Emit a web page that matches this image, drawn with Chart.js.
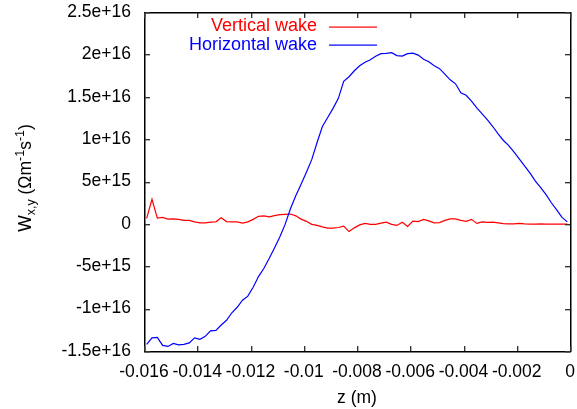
<!DOCTYPE html>
<html>
<head>
<meta charset="utf-8">
<script src="https://cdn.jsdelivr.net/npm/chart.js@4.4.0/dist/chart.umd.min.js"></script>
<style>
  html, body { margin: 0; padding: 0; background: #fff; }
</style>
</head>
<body>
<canvas id="wakeChart" width="577" height="409"></canvas>
<script>
// z positions (m)
const zValues = [
  -0.0159, -0.0157, -0.0155, -0.0153, -0.0151, -0.0149, -0.0147, -0.0145, -0.0143, -0.0141,
  -0.0139, -0.0137, -0.0135, -0.0133, -0.0131, -0.0129, -0.0127, -0.0125, -0.0123, -0.0121,
  -0.0119, -0.0117, -0.0115, -0.0113, -0.0111, -0.0109, -0.0107, -0.0105, -0.0103, -0.0101,
  -0.0099, -0.0097, -0.0095, -0.0093, -0.0091, -0.0089, -0.0087, -0.0085, -0.0083, -0.0081,
  -0.0079, -0.0077, -0.0075, -0.0073, -0.0071, -0.0069, -0.0067, -0.0065, -0.0063, -0.0061,
  -0.0059, -0.0057, -0.0055, -0.0053, -0.0051, -0.0049, -0.0047, -0.0045, -0.0043, -0.0041,
  -0.0039, -0.0037, -0.0035, -0.0033, -0.0031, -0.0029, -0.0027, -0.0025, -0.0023, -0.0021,
  -0.0019, -0.0017, -0.0015, -0.0013, -0.0011, -0.0009, -0.0007, -0.0005, -0.0003, -0.0001
];

// wake values, in units of 1e15
const verticalWake = [
  0.65, 2.90, 0.68, 0.77, 0.56, 0.59, 0.53, 0.41, 0.41, 0.24,
  0.12, 0.12, 0.20, 0.24, 0.71, 0.27, 0.24, 0.24, 0.09, 0.24,
  0.53, 0.89, 0.95, 0.83, 0.97, 1.09, 1.13, 1.16, 0.95, 0.56,
  0.30, -0.06, -0.18, -0.36, -0.51, -0.51, -0.43, -0.26, -0.91, -0.47,
  -0.12, 0.06, -0.06, -0.06, 0.09, 0.20, -0.06, -0.18, 0.20, -0.30,
  0.32, 0.26, 0.53, 0.36, 0.12, 0.15, 0.41, 0.59, 0.59, 0.41,
  0.30, 0.53, 0.06, 0.24, 0.17, 0.21, 0.12, 0.02, 0, 0,
  0.06, 0, -0.04, -0.02, 0, -0.02, -0.04, -0.04, -0.04, -0.04
];

const horizontalWake = [
  -14.22, -13.45, -13.39, -14.34, -14.46, -14.10, -14.28, -14.22, -14.04, -13.45,
  -13.63, -13.27, -12.62, -12.56, -11.93, -11.38, -10.49, -9.84, -9.01, -8.53,
  -7.47, -6.22, -5.27, -4.09, -2.84, -1.54, -0.06, 1.78, 3.32, 4.68,
  6.10, 7.58, 9.60, 11.49, 12.56, 13.63, 14.81, 16.83, 17.36, 18.07,
  18.66, 19.08, 19.37, 19.79, 20.09, 20.11, 20.20, 19.85, 19.79, 20.09,
  20.15, 19.91, 19.43, 19.14, 18.66, 18.31, 17.66, 17.00, 16.53, 15.46,
  15.17, 14.49, 13.69, 12.98, 12.26, 11.49, 10.61, 9.84, 9.24, 8.47,
  7.64, 6.81, 5.98, 5.04, 4.27, 3.44, 2.49, 1.66, 0.77, 0.24
];

const xTicks = [-0.016, -0.014, -0.012, -0.01, -0.008, -0.006, -0.004, -0.002, 0];
const yTicks = [-1.5e16, -1e16, -5e15, 0, 5e15, 1e16, 1.5e16, 2e16, 2.5e16];

const FONT = '"Liberation Sans", Arial, sans-serif';
const toPoints = (vals) => vals.map((v, i) => ({ x: zValues[i], y: v * 1e15 }));

function sciLabel(v) {
  if (Math.abs(v) < 1) return '0';
  const e = Math.floor(Math.log10(Math.abs(v)) + 1e-9);
  const m = Number((v / Math.pow(10, e)).toFixed(3));
  return m + 'e+' + e;
}

// box round the plot with inward ticks on all four sides
function drawFrame(chart) {
  const c = chart.ctx;
  const a = chart.chartArea;
  const xs = chart.scales.x, ys = chart.scales.y;
  const L = Math.round(a.left), R = Math.round(a.right);
  const T = Math.round(a.top), B = Math.round(a.bottom);
  c.save();
  c.fillStyle = '#000';
  c.fillRect(L, T, R - L + 1, 1.3);
  c.fillRect(L, B, R - L + 1, 1.3);
  c.fillRect(L, T, 1.3, B - T + 1);
  c.fillRect(R, T, 1.3, B - T + 1);
  const t = 5;
  c.fillStyle = '#333';
  xTicks.forEach((v) => {
    const px = Math.round(xs.getPixelForValue(v));
    c.fillRect(px, B - t, 1.2, t);
    c.fillRect(px, T + 1, 1.2, t);
  });
  yTicks.forEach((v) => {
    const py = Math.round(ys.getPixelForValue(v));
    c.fillRect(L + 1, py, t, 1.2);
    c.fillRect(R - t, py, t, 1.2);
  });
  c.restore();
}

const framePlugin = {
  id: 'frame',
  afterDatasetsDraw(chart) {
    drawFrame(chart);
  },
  afterDraw(chart) {
    const c = chart.ctx;
    const a = chart.chartArea;
    drawFrame(chart);
    c.save();

    // legend
    c.font = '18px ' + FONT;
    c.textAlign = 'right';
    c.textBaseline = 'middle';
    chart.data.datasets.forEach((ds, i) => {
      const ly = 26.5 + i * 18.5;
      c.fillStyle = ds.borderColor;
      c.fillText(ds.label, 317, ly);
      c.fillRect(329, Math.round(ly) - 0.5, 48, 1.2);
    });

    // x title
    c.fillStyle = '#000';
    c.textAlign = 'center';
    c.font = '17.5px ' + FONT;
    c.fillText('z (m)', (a.left + a.right) / 2, 398);

    // y title with sub/superscripts
    const parts = [
      { t: 'W', s: 17.5, dy: 0 },
      { t: 'x,y', s: 12.5, dy: 4 },
      { t: ' (\u03A9m', s: 17.5, dy: 0 },
      { t: '-1', s: 12.5, dy: -7 },
      { t: 's', s: 17.5, dy: 0 },
      { t: '-1', s: 12.5, dy: -7 },
      { t: ')', s: 17.5, dy: 0 }
    ];
    c.textAlign = 'left';
    c.textBaseline = 'alphabetic';
    let total = 0;
    parts.forEach((p) => { c.font = p.s + 'px ' + FONT; p.w = c.measureText(p.t).width; total += p.w; });
    c.translate(31, 178);
    c.rotate(-Math.PI / 2);
    let cx = -total / 2;
    parts.forEach((p) => {
      c.font = p.s + 'px ' + FONT;
      c.fillText(p.t, cx, p.dy);
      cx += p.w;
    });
    c.restore();
  }
};

new Chart(document.getElementById('wakeChart').getContext('2d'), {
  type: 'line',
  data: {
    datasets: [
      {
        label: 'Vertical wake',
        data: toPoints(verticalWake),
        borderColor: '#ff0000',
        borderWidth: 1.2,
        pointRadius: 0,
        tension: 0,
        order: 1
      },
      {
        label: 'Horizontal wake',
        data: toPoints(horizontalWake),
        borderColor: '#0000ff',
        borderWidth: 1.2,
        pointRadius: 0,
        tension: 0,
        order: 0
      }
    ]
  },
  options: {
    responsive: false,
    devicePixelRatio: 1,
    animation: false,
    layout: { padding: { left: 0, right: 7, top: 12, bottom: 0 } },
    plugins: {
      legend: { display: false },
      tooltip: { enabled: false }
    },
    scales: {
      x: {
        type: 'linear',
        min: -0.016,
        max: 0,
        afterFit: (scale) => { scale.height = 58; },
        afterBuildTicks: (scale) => { scale.ticks = xTicks.map((v) => ({ value: v })); },
        grid: { display: false, drawTicks: true, tickLength: 11 },
        border: { display: true, color: '#000', width: 1 },
        ticks: {
          color: '#000',
          padding: 0,
          maxRotation: 0,
          autoSkip: false,
          font: { family: FONT, size: 17.5 },
          callback: (v) => (Math.abs(v) < 1e-9 ? '0' : String(Number(v.toFixed(3))))
        }
      },
      y: {
        type: 'linear',
        min: -1.5e16,
        max: 2.5e16,
        afterFit: (scale) => { scale.width = 144; },
        afterBuildTicks: (scale) => { scale.ticks = yTicks.map((v) => ({ value: v })); },
        grid: { display: false, drawTicks: true, tickLength: 13 },
        border: { display: true, color: '#000', width: 1 },
        ticks: {
          color: '#000',
          padding: 0,
          autoSkip: false,
          font: { family: FONT, size: 17.5 },
          callback: (v) => sciLabel(v)
        }
      }
    }
  },
  plugins: [framePlugin]
});
</script>
</body>
</html>
